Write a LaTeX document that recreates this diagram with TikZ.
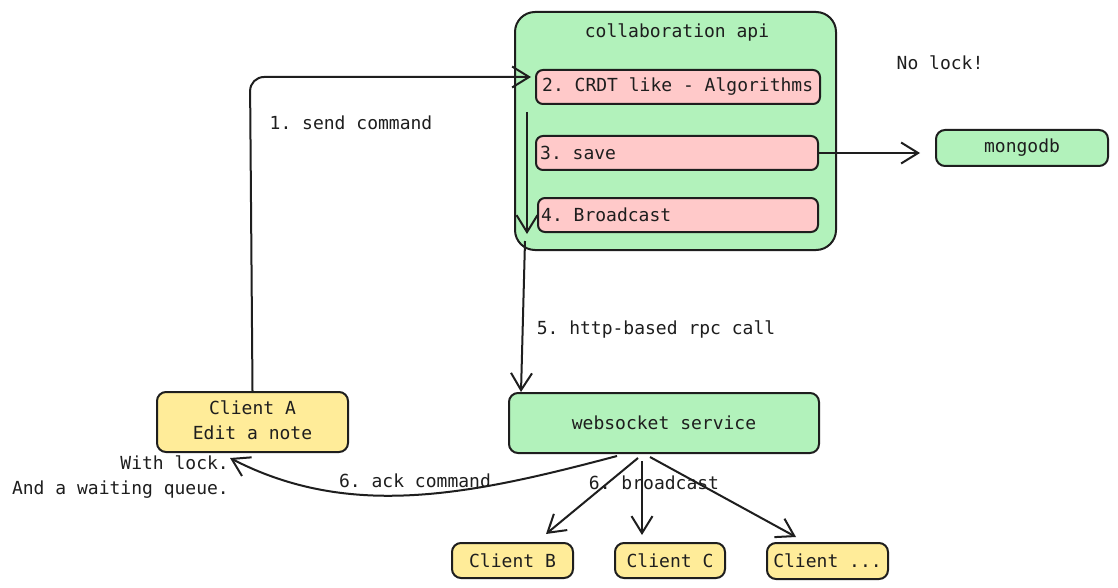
\documentclass[tikz,border=0pt]{standalone}
\usepackage{fontspec}
\setmonofont{DejaVu Sans Mono}
\usetikzlibrary{arrows.meta}
\definecolor{ink}{HTML}{1E1E1E}
\definecolor{gfill}{HTML}{B2F2BB}
\definecolor{pfill}{HTML}{FFC9C9}
\definecolor{yfill}{HTML}{FFEC99}
\tikzset{
  every node/.style={font=\ttfamily\fontsize{18}{25}\selectfont, text=ink},
  box/.style={draw=ink, line width=2pt, rounded corners=9pt, inner sep=0pt, align=center},
  gbox/.style={box, fill=gfill},
  ybox/.style={box, fill=yfill},
  pbox/.style={draw=ink, line width=2pt, rounded corners=7pt, fill=pfill, inner sep=0pt, minimum height=34pt},
  conn/.style={draw=ink, line width=2pt, -{Straight Barb[length=17pt,width=21pt,line width=2pt]}},
  lbl/.style={inner sep=0pt}
}
\begin{document}
\begin{tikzpicture}[x=1pt,y=-1pt]
\useasboundingbox[fill=white] (0,0) rectangle (1118,588);

% collaboration api container
\node[gbox, rounded corners=20pt, minimum width=321pt, minimum height=238pt] (api) at (675.5,131) {};
\node[lbl] (apititle) at (677,32) {collaboration api};
\node[pbox, minimum width=284pt] (c2) at (678,87) {};
\node[lbl, anchor=west] (c2t) at ([xshift=7pt]c2.west) {2. CRDT like - Algorithms};
\node[pbox, minimum width=282pt] (c3) at (677,153) {};
\node[lbl, anchor=west] (c3t) at ([xshift=5pt]c3.west) {3. save};
\node[pbox, minimum width=280pt] (c4) at (678,215) {};
\node[lbl, anchor=west] (c4t) at ([xshift=4pt]c4.west) {4. Broadcast};

% other nodes
\node[gbox, minimum width=172pt, minimum height=36pt] (mg) at (1022,148) {mongodb};
\node[lbl] (nolock) at (940,63) {No lock!};
\node[ybox, minimum width=191pt, minimum height=60pt] (ca) at (252.5,422) {};
\node[lbl, align=center] (cat) at (252.5,420) {Client A\\Edit a note};
\node[gbox, minimum width=310pt, minimum height=60pt] (ws) at (664,423) {websocket service};
\node[ybox, minimum width=121pt, minimum height=35pt] (cb) at (512.5,560.5) {Client B};
\node[ybox, minimum width=110pt, minimum height=35pt] (cc) at (670,560.5) {Client C};
\node[ybox, minimum width=121pt, minimum height=36pt] (cd) at (827.5,561) {Client ...};

\node[lbl, align=right, anchor=east] (lock) at (229,477) {With lock.\\And a waiting queue.};

% connectors
\coordinate (a1end) at (531,77);
\draw[conn, rounded corners=14pt] (ca.north) -- (250,77) -- (a1end);
\node[lbl] (l1) at (351,123) {1. send command};

\coordinate (v1s) at (527,112);
\coordinate (v1e) at (527,234);
\draw[conn] (v1s) -- (v1e);

\coordinate (v2s) at (525,241);
\coordinate (v2e) at (521,392);
\draw[conn] (v2s) -- (v2e);
\node[lbl] (l5) at (656,329) {5. http-based rpc call};

\coordinate (mgtip) at (920,153);
\draw[conn] (c3.east) -- (mgtip);

\coordinate (ackS) at (617,456);
\coordinate (ackE) at (230,458);
\draw[conn] (ackS) .. controls (470,495) and (350,520) .. (ackE);
\node[lbl] (l6a) at (415,481) {6. ack command};

\coordinate (bS1) at (638,458);
\coordinate (bE1) at (546,534);
\coordinate (bS2) at (642,461);
\coordinate (bE2) at (642,535);
\coordinate (bS3) at (650,457);
\coordinate (bE3) at (796,537);
\draw[conn] (bS1) -- (bE1);
\draw[conn] (bS2) -- (bE2);
\draw[conn] (bS3) -- (bE3);
\node[lbl] (l6b) at (654,483) {6. broadcast};
\end{tikzpicture}
\end{document}
